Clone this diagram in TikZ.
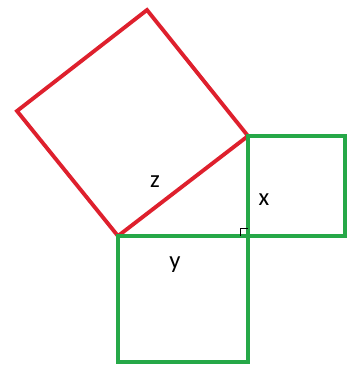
\documentclass[tikz,border=0pt]{standalone}
\usepackage{fontspec}
\setmainfont{Carlito}
\usetikzlibrary{calc}
\definecolor{sqred}{RGB}{222,32,45}
\definecolor{sqgreen}{RGB}{38,168,72}
\begin{document}
\begin{tikzpicture}[x=0.02cm, y=-0.02cm, line join=miter]
    \useasboundingbox (0,0) rectangle (347,369);
    % Triangle corners
    \coordinate (A) at (118,236);
    \coordinate (C) at (248,236);
    \coordinate (B) at (248,136);
    % Square on the hypotenuse
    \draw[sqred, line width=2.2pt] (A) -- (B) -- ++(-101,-126) coordinate (D) -- ++(-130,101) coordinate (E) -- cycle;
    % Square on side x
    \draw[sqgreen, line width=2.1pt] (C) rectangle ++(97,-100);
    % Square on side y
    \draw[sqgreen, line width=2.4pt] (A) rectangle ++(130,126);
    % right angle mark
    \draw[line width=0.5pt] ($(C)+(-8,0)$) -- ++(0,-8) -- ++(8,0);

    % side labels
    \node (z) at (155,182) {\fontsize{14}{16}\selectfont z};
    \node (x) at (264,200) {\fontsize{14}{16}\selectfont x};
    \node (y) at (175,265) {\fontsize{14}{16}\selectfont y};
\end{tikzpicture}
\end{document}
